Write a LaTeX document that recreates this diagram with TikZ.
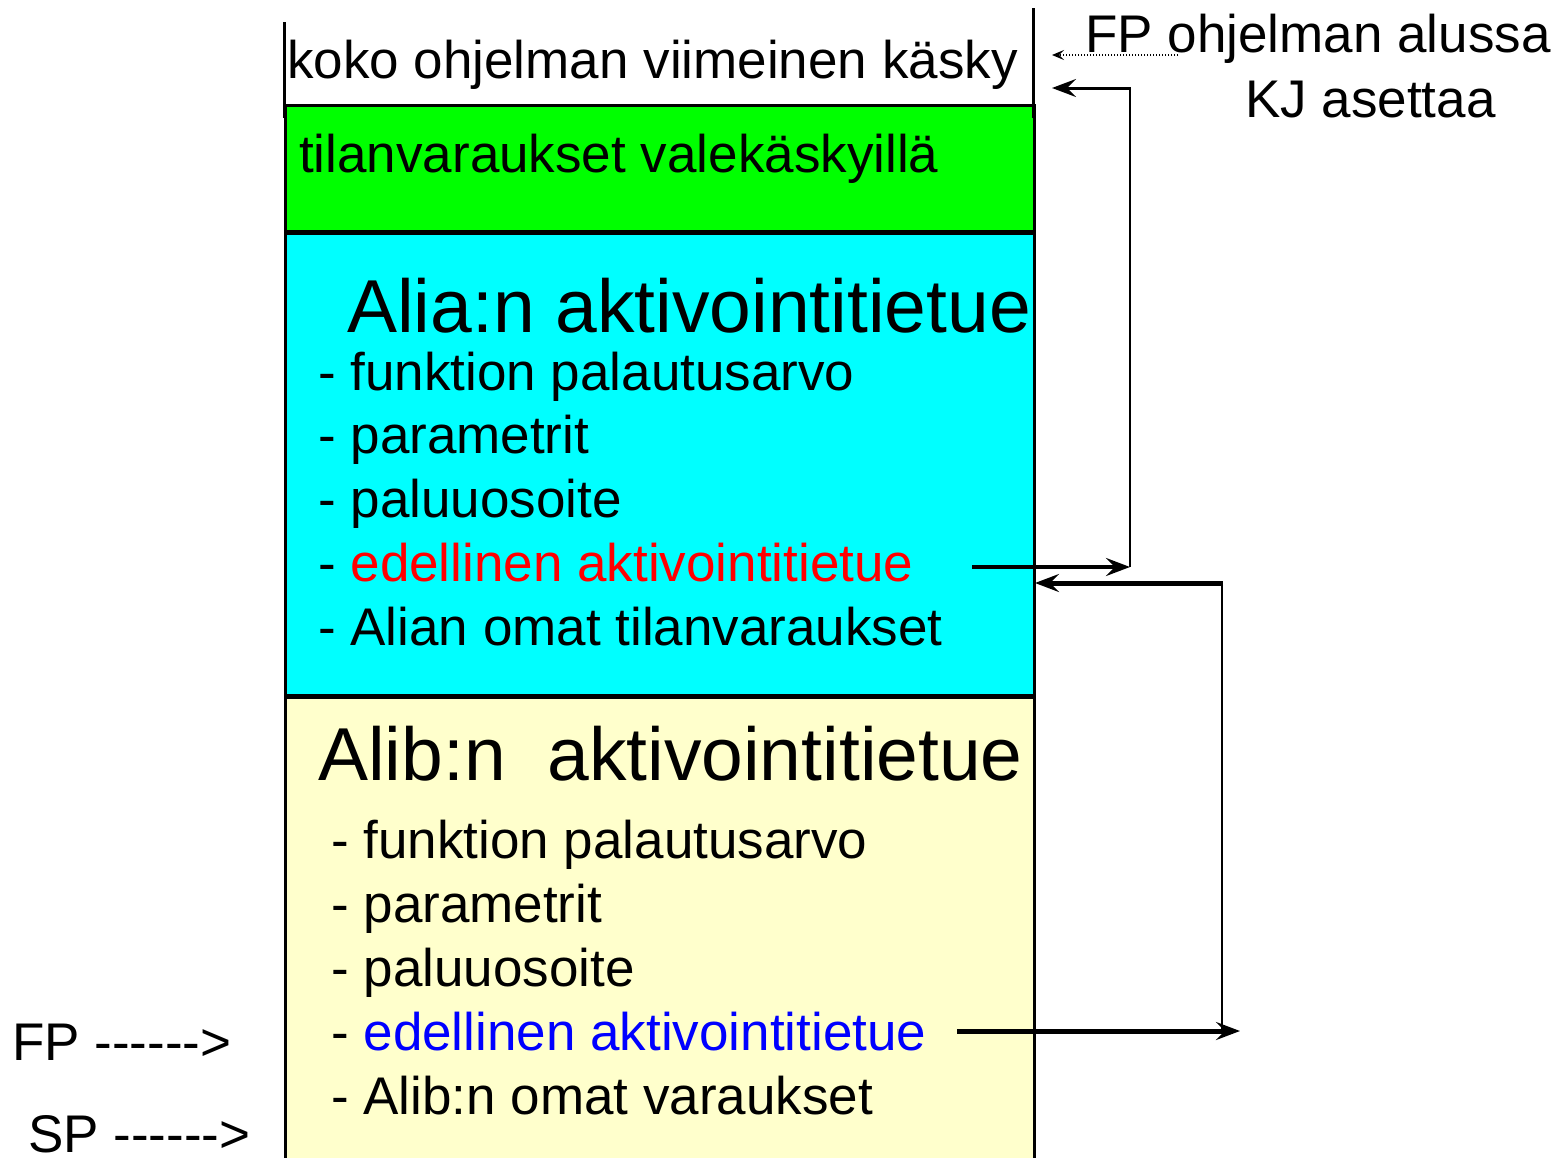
\documentclass[tikz,border=0pt]{standalone}
\usepackage{fontspec}
\setmainfont{Liberation Sans}
\usetikzlibrary{arrows.meta}
\definecolor{boxgreen}{HTML}{00FF00}
\definecolor{boxcyan}{HTML}{00FFFF}
\definecolor{boxyellow}{HTML}{FFFFCC}
\definecolor{txtred}{HTML}{FF0000}
\definecolor{txtblue}{HTML}{0000FF}
\newcommand{\hy}{-\kern0pt}
\begin{document}
\begin{tikzpicture}[x=1pt,y=-1pt,
  box/.style={draw=black,line width=3pt,anchor=north west,inner sep=0pt,minimum width=749pt},
  small/.style={anchor=base west,inner sep=0pt,font=\fontsize{53}{60}\selectfont},
  big/.style={anchor=base west,inner sep=0pt,font=\fontsize{75}{85}\selectfont},
  arr/.style={-{Stealth[length=24pt,width=18pt,inset=9pt]}},
  thinline/.style={line width=2pt},
]
\useasboundingbox (0,0) rectangle (1558,1157);
% boxes
\node[box,fill=boxyellow,minimum height=480pt] (yellow) at (284,696) {};
\node[box,fill=boxcyan,minimum height=462pt] (cyan) at (284,232) {};
\node[box,fill=boxgreen,minimum height=126pt] (green) at (284,104) {};
% top white box side lines
\coordinate (wl1) at (284,22);
\coordinate (wl2) at (284,118);
\coordinate (wr1) at (1033,8);
\coordinate (wr2) at (1033,118);
\draw[line width=3pt] (wl1) -- (wl2);
\draw[line width=3pt] (wr1) -- (wr2);
% texts
\node[small] (top) at (287,78) {koko ohjelman viimeinen käsky};
\node[small] (gtxt) at (299,172) {tilanvaraukset valekäskyillä};
\node[big] (atitle) at (347,332) {Alia:n aktivointitietue};
\node[small] (a1) at (318,390) {- funktion palautusarvo};
\node[small] (a2) at (318,453) {- parametrit};
\node[small] (a3) at (318,517) {- paluuosoite};
\node[small] (a4) at (318,581) {- \textcolor{txtred}{edellinen aktivointitietue}};
\node[small] (a5) at (318,645) {- Alian omat tilanvaraukset};
\node[big] (btitle) at (318,780) {Alib:n \ aktivointitietue};
\node[small] (b1) at (331,858) {- funktion palautusarvo};
\node[small] (b2) at (331,922) {- parametrit};
\node[small] (b3) at (331,986) {- paluuosoite};
\node[small] (b4) at (331,1050) {- \textcolor{txtblue}{edellinen aktivointitietue}};
\node[small] (b5) at (331,1114) {- Alib:n omat varaukset};
\node[small] (fp) at (12,1060) {FP \hy\hy\hy\hy\hy\hy>};
\node[small] (sp) at (28,1152) {SP \hy\hy\hy\hy\hy\hy>};
\node[small] (fpstart) at (1085,52) {FP ohjelman alussa};
\node[small] (kj) at (1245,117) {KJ asettaa};
% connectors
\coordinate (dotS) at (1178,55);
\coordinate (dotE) at (1052,55);
\draw[line width=1.5pt,dash pattern=on 1.5pt off 1.5pt,-{Stealth[length=12pt,width=10pt,inset=5pt]}] (dotS) -- (dotE);
\coordinate (r1) at (972,567);
\coordinate (r2) at (1130,567);
\coordinate (r3) at (1130,88);
\coordinate (r4) at (1052,88);
\draw[line width=4pt,arr] (r1) -- (r2);
\draw[thinline] (r2) -- (r3);
\draw[line width=3pt,arr] ([xshift=1pt]r3) -- (r4);
\coordinate (s1) at (957,1031);
\coordinate (s2) at (1240,1031);
\coordinate (s3) at (1222,1031);
\coordinate (s4) at (1222,583);
\coordinate (s5) at (1035,583);
\draw[line width=5pt,arr] (s1) -- (s2);
\draw[thinline] (s3) -- (s4);
\draw[line width=5pt,arr] ([xshift=1pt]s4) -- (s5);
\end{tikzpicture}
\end{document}
